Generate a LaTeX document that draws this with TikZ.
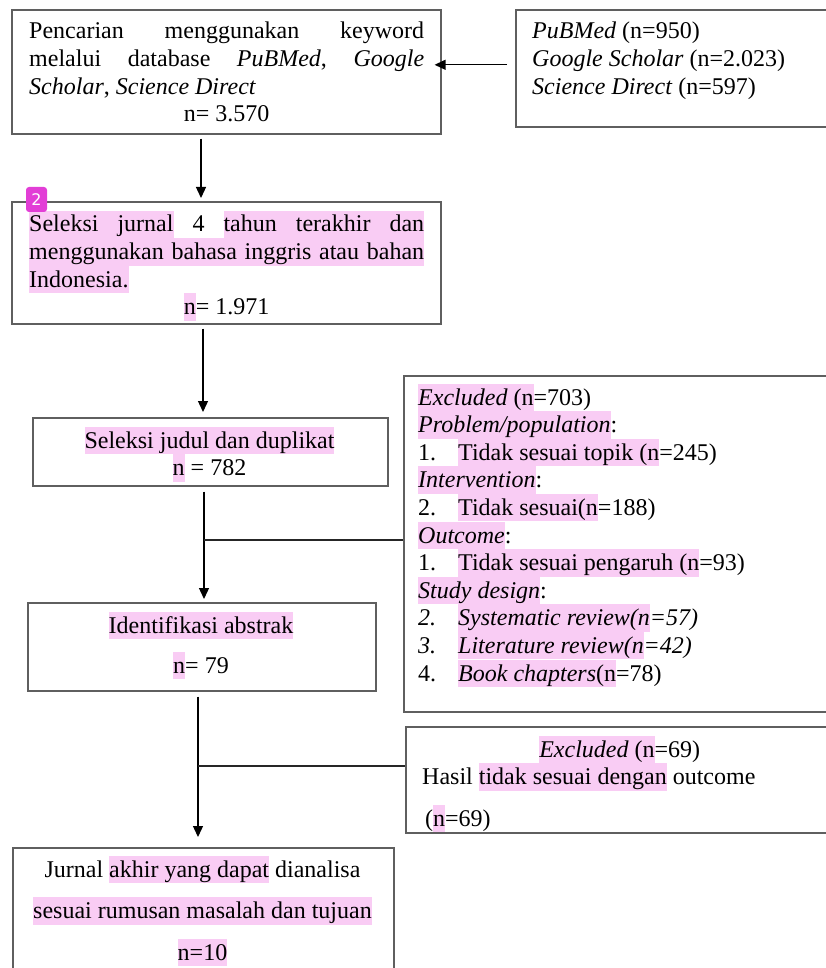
\documentclass[tikz,border=0pt]{standalone}
\usepackage{fontspec}
\setmainfont{Liberation Serif}
\newfontfamily\badgefont{DejaVu Sans}
\usetikzlibrary{arrows.meta}
\definecolor{hlpink}{RGB}{249,204,244}
\definecolor{badgepink}{RGB}{226,62,214}
\definecolor{boxgray}{RGB}{95,95,95}
\newcommand{\hlt}[1]{{\setlength{\fboxsep}{0pt}\colorbox{hlpink}{\rule[-6pt]{0pt}{27.5pt}#1}}}
\newcommand{\js}{\hskip 0.25em plus 1fill\relax}
\newcommand{\hs}{{\color{hlpink}\leaders\hrule height 21.5pt depth 6pt\hskip 0.25em plus 1fill}}
\newcommand{\jline}[1]{\hbox to\hsize{#1}}
\newcommand{\mline}[1]{\hbox to\hsize{\hfil#1\hfil}}
\newcommand{\lline}[1]{\hbox to\hsize{#1\hfil}}
\newcommand{\itemno}[1]{\makebox[40pt][l]{#1}}
\begin{document}
\begin{tikzpicture}[x=1pt,y=-1pt,
    box/.style={draw=boxgray, line width=1.6pt, rectangle, inner sep=0pt, anchor=north west},
    txt/.style={inner sep=0pt, anchor=base west, font=\fontsize{24}{27.6}\selectfont},
    arr/.style={-{Triangle[length=11pt,width=10pt]}, line width=1.3pt},
    ln/.style={line width=1.3pt, draw=black!85}]
                    \useasboundingbox (0,0) rectangle (825,968);%

                    % Drawing box search
                    \node[box, minimum width=429pt, minimum height=124pt] (search) at (11,9) {};%
                    \node[txt] (searchtxt) at (29,39) {\parbox[t]{395pt}{%
                      \jline{Pencarian\js menggunakan\js keyword}%
                      \jline{melalui\js database\js \textit{PuBMed},\js \textit{Google}}%
                      \lline{\textit{Scholar}, \textit{Science Direct}}%
                      \mline{n= 3.570}}};%

                    % Drawing box source
                    \node[box, minimum width=320pt, minimum height=117pt] (source) at (515,9) {};%
                    \node[txt] (sourcetxt) at (532,39) {\parbox[t]{290pt}{%
                      \lline{\textit{PuBMed} (n=950)}%
                      \lline{\textit{Google Scholar} (n=2.023)}%
                      \lline{\textit{Science Direct} (n=597)}}};%

                    % Drawing box select
                    \node[box, minimum width=429pt, minimum height=122pt] (select) at (11,201) {};%
                    \node[txt] (selecttxt) at (29,232) {\parbox[t]{395pt}{%
                      \jline{\hlt{Seleksi}\hs\hlt{jurnal}\js 4\js\hlt{tahun}\hs\hlt{terakhir}\hs\hlt{dan}}%
                      \jline{\hlt{menggunakan}\hs\hlt{bahasa}\hs\hlt{inggris}\hs\hlt{atau}\hs\hlt{bahan}}%
                      \lline{\hlt{Indonesia.}}%
                      \mline{\hlt{n}= 1.971}}};%

                    % Drawing box title
                    \node[box, minimum width=355pt, minimum height=68pt] (title) at (32,417) {};%
                    \node[txt, anchor=base] (titletxt) at (209.5,448) {\parbox[t]{355pt}{%
                      \mline{\hlt{Seleksi judul dan duplikat}}%
                      \mline{\hlt{n} = 782}}};%

                    % Drawing box abstr
                    \node[box, minimum width=348pt, minimum height=88pt] (abstr) at (27,602) {};%
                    \node[txt, anchor=base, font=\fontsize{24}{40}\selectfont] (abstrtxt) at (201,633) {\parbox[t]{348pt}{%
                      \mline{\hlt{Identifikasi abstrak}}%
                      \mline{\hlt{n}= 79}}};%

                    % Drawing box excla
                    \node[box, minimum width=432pt, minimum height=336pt] (excla) at (403,375) {};%
                    \node[txt] (exclatxt) at (418,405) {\parbox[t]{400pt}{%
                      \lline{\hlt{\textit{Excluded} (n}=703)}%
                      \lline{\hlt{\textit{Problem/population}}:}%
                      \lline{\itemno{1.}\hlt{Tidak sesuai topik (n}=245)}%
                      \lline{\hlt{\textit{Intervention}}:}%
                      \lline{\itemno{2.}\hlt{Tidak sesuai(n}=188)}%
                      \lline{\hlt{\textit{Outcome}}:}%
                      \lline{\itemno{1.}\hlt{Tidak sesuai pengaruh (n}=93)}%
                      \lline{\hlt{\textit{Study design}}:}%
                      \lline{\itemno{\textit{2.}}\hlt{\textit{Systematic review(n}}\textit{=57)}}%
                      \lline{\itemno{\textit{3.}}\hlt{\textit{Literature review(n}}\textit{=42)}}%
                      \lline{\itemno{4.}\hlt{\textit{Book chapters}(n}=78)}}};%

                    % Drawing box exclb (text first, the frame runs over its last line)
                    \node[txt] (exclbtxt) at (422,757) {\parbox[t]{395pt}{%
                      \mline{\hlt{\textit{Excluded} (n}=69)}%
                      \lline{Hasil \hlt{tidak sesuai dengan} outcome}%
                      \vskip 14pt%
                      \lline{\hspace{3pt}(\hlt{n}=69)}}};%
                    \node[box, minimum width=430pt, minimum height=106pt] (exclb) at (405,726) {};%

                    % Drawing box final
                    \node[box, minimum width=381pt, minimum height=140pt] (final) at (12,847) {};%
                    \node[txt, anchor=base, font=\fontsize{24}{41.5}\selectfont] (finaltxt) at (202.5,877) {\parbox[t]{381pt}{%
                      \mline{Jurnal \hlt{akhir yang dapat} dianalisa}%
                      \mline{\hlt{sesuai rumusan masalah dan tujuan}}%
                      \mline{\hlt{n=10}}}};%

                    % Marking badge 2
                    \node[fill=badgepink, rounded corners=3pt, minimum width=21pt, minimum height=25pt, inner sep=0pt, text=white, font=\badgefont\fontsize{16}{16}\selectfont] (mark) at (36.5,199.5) {2};%

                    % Drawing arrows
                    \coordinate (col1) at (201,0);%
                    \coordinate (col2) at (203,0);%
                    \coordinate (col3) at (204,0);%
                    \coordinate (col4) at (198,0);%
                    \draw[arr, shorten <=8pt, shorten >=-7pt] ([yshift=3.5pt]source.west) -- ([yshift=3.5pt]source.west -| search.east);%
                    \draw[arr, shorten <=4pt, shorten >=3pt] (search.south -| col1) -- (select.north -| col1);%
                    \draw[arr, shorten <=4pt, shorten >=5pt] (select.south -| col2) -- (title.north -| col2);%
                    \draw[arr, shorten <=5pt, shorten >=3pt] (title.south -| col3) -- (abstr.north -| col3);%
                    \draw[arr, shorten <=5pt, shorten >=10pt] (abstr.south -| col4) -- (final.north -| col4);%

                    % Drawing side lines
                    \coordinate (j1) at (204,540);%
                    \coordinate (j2) at (198,766);%
                    \draw[ln] (j1) -- (j1 -| excla.west);%
                    \draw[ln] (j2) -- (j2 -| exclb.west);%
\end{tikzpicture}
\end{document}
